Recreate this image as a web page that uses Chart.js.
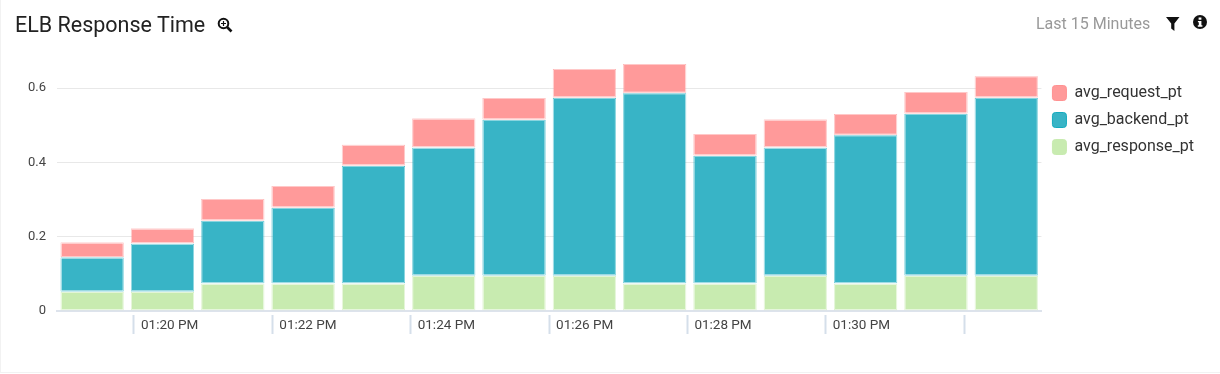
<!DOCTYPE html>
<html>
<head>
<meta charset="utf-8">
<script src="https://cdn.jsdelivr.net/npm/chart.js@4"></script>
<style>
	html, body { margin: 0; padding: 0; background: #fff; }
	#panel { position: relative; width: 1220px; height: 374px; overflow: hidden; font-family: Roboto, sans-serif; }
	#panel::after { content: ''; position: absolute; left: 0; top: 0; width: 1220px; height: 373px; border-left: 1px solid #f2f2f2; border-bottom: 1px solid #f2f2f2; pointer-events: none; box-sizing: border-box; }
	canvas { position: absolute; left: 0; top: 0; }
	.title { position: absolute; left: 15px; top: 13px; font-size: 21.5px; line-height: 24px; color: #222; }
	.range { position: absolute; left: 1036px; top: 15px; font-size: 16px; line-height: 18px; color: #999; }
	svg { position: absolute; }
</style>
</head>
<body>
<div id="panel">
	<canvas id="elb-chart" width="1220" height="374"></canvas>
	<div class="title">ELB Response Time</div>
	<svg style="left:217px;top:17px" width="16" height="16" viewBox="0 0 16 16" fill="none" stroke="#111" stroke-width="2">
		<circle cx="6.5" cy="6.5" r="4.8" />
		<path d="M10 10l4.5 4.5" stroke-width="2.6" />
		<path d="M6.5 4v5M4 6.5h5" stroke-width="1.2" />
	</svg>
	<div class="range">Last 15 Minutes</div>
	<svg style="left:1166px;top:17px" width="14" height="14" viewBox="0 0 14 14" fill="#111">
		<path d="M0 0h13.5L8.4 6.4V14L5.2 11.6V6.4z" />
	</svg>
	<svg style="left:1193px;top:15px" width="14" height="14" viewBox="0 0 14 14">
		<circle cx="7" cy="7" r="7" fill="#111" />
		<path d="M5.6 2.6h2.8v2.2H5.6zM4.9 5.9h3.5v4.3h1v1.5H4.8v-1.5h1V7.3h-.9z" fill="#fff" />
	</svg>
</div>
<script>
	// values, one entry per bar
	const categories = ['01:19', '01:20', '01:21', '01:22', '01:23', '01:24', '01:25', '01:26', '01:27', '01:28', '01:29', '01:30', '01:31', '01:32'];
	const avgResponsePt = [0.052, 0.052, 0.074, 0.074, 0.074, 0.095, 0.095, 0.095, 0.074, 0.074, 0.095, 0.074, 0.095, 0.095];
	const avgBackendPt = [0.093, 0.13, 0.169, 0.204, 0.317, 0.345, 0.42, 0.479, 0.513, 0.344, 0.345, 0.4, 0.436, 0.479];
	const avgRequestPt = [0.04, 0.041, 0.059, 0.059, 0.057, 0.079, 0.059, 0.078, 0.079, 0.059, 0.076, 0.057, 0.059, 0.059];

	// the time ticks do not line up with the bars, so they get their own axis
	const timeTicks = [20, 22, 24, 26, 28, 30, 32];
	const timeLabels = ['01:20 PM', '01:22 PM', '01:24 PM', '01:26 PM', '01:28 PM', '01:30 PM', ''];

	const legendShift = {
		id: 'legendShift',
		afterLayout(chart) {
			chart.legend.top += 23;
			chart.legend.bottom += 23;
		},
	};

	function bars(label, data, color, border) {
		return {
			label,
			data,
			backgroundColor: color,
			borderColor: border,
			borderWidth: 1,
			borderSkipped: false,
			inflateAmount: -0.25, // leaves the thin white gap between segments
			barPercentage: 0.905,
			categoryPercentage: 1,
			xAxisID: 'x',
		};
	}

	new Chart(document.getElementById('elb-chart').getContext('2d'), {
		type: 'bar',
		data: {
			labels: categories,
			datasets: [
				bars('avg_response_pt', avgResponsePt, '#c8ebb0', '#c8ebb0'),
				bars('avg_backend_pt', avgBackendPt, '#38b4c6', '#14abbf'),
				bars('avg_request_pt', avgRequestPt, '#ff9a9a', '#ff9292'),
			],
		},
		plugins: [legendShift],
		options: {
			responsive: false,
			animation: false,
			layout: { padding: { top: 51, right: 16 } },
			plugins: {
				tooltip: { enabled: false },
				legend: {
					position: 'right',
					align: 'start',
					reverse: true,
					labels: {
						boxWidth: 14,
						boxHeight: 15,
						padding: 11,
						useBorderRadius: true,
						borderRadius: 3,
						color: '#333',
						font: { family: 'Roboto', size: 16 },
					},
				},
			},
			scales: {
				y: {
					stacked: true,
					min: 0,
					max: 0.7,
					afterFit(scale) {
						scale.width = 57;
					},
					ticks: { stepSize: 0.2, includeBounds: false, padding: 11, color: '#444', font: { family: 'Roboto', size: 13 } },
					grid: { color: '#e8e8e8', drawTicks: false },
					border: { display: false },
				},
				x: {
					stacked: true,
					position: 'bottom',
					afterFit(scale) {
						scale.height = 4;
					},
					ticks: { display: false },
					grid: { display: false },
					border: { color: '#dde3ec', width: 2 },
				},
				time: {
					type: 'linear',
					position: 'bottom',
					offset: false, // bar charts turn this on by default, which stretches the range
					min: 18.887,
					max: 33.118,
					afterBuildTicks(scale) {
						scale.ticks = timeTicks.map((value) => ({ value }));
					},
					afterFit(scale) {
						scale.height = 59;
					},
					ticks: {
						align: 'start',
						autoSkip: false,
						maxRotation: 0,
						padding: -16,
						labelOffset: 7,
						color: '#444',
						font: { family: 'Roboto', size: 13.5 },
						callback: (value) => timeLabels[timeTicks.indexOf(value)],
					},
					grid: { offset: false, drawOnChartArea: false, tickLength: 19, tickColor: '#d5dfea', tickWidth: 2 },
					border: { display: false },
				},
			},
		},
	});
</script>
</body>
</html>
